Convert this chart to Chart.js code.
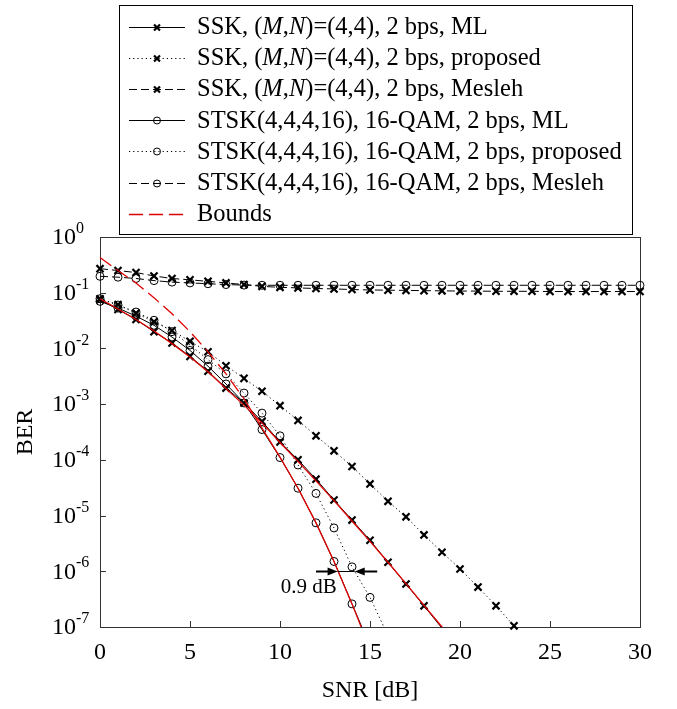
<!DOCTYPE html>
<html><head><meta charset="utf-8">
<script src="https://cdn.jsdelivr.net/npm/chart.js@4"></script>
<style>html,body{margin:0;padding:0;background:#fff}#wrap{width:677px;height:709px;position:relative}</style>
</head><body><div id="wrap"><canvas id="c" width="677" height="709"></canvas></div>
<script>
// ---------- data ----------
const snrDb = [0,1,2,3,4,5,6,7,8,9,10,11,12,13,14,15,16,17,18,19,20,21,22,23,24,25,26,27,28,29,30];
const xTickValues = [0,5,10,15,20,25,30];
const yTickPowers = [0,-1,-2,-3,-4,-5,-6,-7];

const sskMl = [0.075,0.050,0.033,0.020,0.0125,0.0072,0.0039,1.94e-3,1.05e-3,4.9e-4,2.1e-4,1.0e-4,4.5e-5,1.9e-5,8.3e-6,3.6e-6,1.45e-6,5.9e-7,2.4e-7,9.5e-8];
const sskProposed = [0.078,0.061,0.043,0.030,0.021,0.0134,0.0087,4.9e-3,2.9e-3,1.7e-3,9.4e-4,5.1e-4,2.7e-4,1.45e-4,7.6e-5,3.7e-5,1.8e-5,9.5e-6,4.5e-6,2.2e-6,1.1e-6,5.2e-7,2.4e-7,1.05e-7];
const sskMesleh = [0.27,0.25,0.23,0.20,0.18,0.17,0.16,0.15,0.14,0.13,0.125,0.122,0.119,0.117,0.114,0.112,0.111,0.110,0.109,0.108,0.107,0.107,0.106,0.106,0.106,0.105,0.105,0.105,0.105,0.105,0.105];
const stskMl = [0.070,0.053,0.038,0.026,0.016,0.0092,0.0048,2.3e-3,1.05e-3,3.5e-4,1.1e-4,3.1e-5,7.4e-6,1.5e-6,2.6e-7,4.5e-8];
const stskProposed = [0.078,0.060,0.045,0.032,0.020,0.0115,0.0063,3.5e-3,1.58e-3,6.9e-4,2.7e-4,8.1e-5,2.5e-5,6.0e-6,1.2e-6,3.4e-7,7e-8];
const stskMesleh = [0.197,0.19,0.18,0.165,0.155,0.15,0.145,0.14,0.137,0.136,0.136,0.136,0.136,0.136,0.136,0.136,0.136,0.136,0.136,0.136,0.136,0.136,0.136,0.136,0.136,0.136,0.136,0.136,0.136,0.136,0.136];
const sskBound = [0.078,0.051,0.033,0.0205,0.0122,0.0070,0.0038,1.9e-3,9.6e-4,4.6e-4,2.05e-4,9.4e-5,4.2e-5,1.85e-5,8.0e-6,3.45e-6,1.45e-6,6.0e-7,2.45e-7,1.0e-7,4e-8];
const stskBound = [0.43,0.25,0.15,0.081,0.042,0.020,8.7e-3,3.5e-3,1.25e-3,3.7e-4,1.12e-4,3.1e-5,7.4e-6,1.5e-6,2.6e-7,4e-8];

// "0.9 dB" gap annotation (data coordinates)
const gapLevel = 1e-6;
const gapTails = [12.0, 15.4];
const gapTips = [13.2, 14.15];
const gapLabel = '0.9 dB';
const gapLabelAt = [11.6, 5.2e-7];

const labels = [
  'SSK, (M,N)=(4,4), 2 bps, ML',
  'SSK, (M,N)=(4,4), 2 bps, proposed',
  'SSK, (M,N)=(4,4), 2 bps, Mesleh',
  'STSK(4,4,4,16), 16-QAM, 2 bps, ML',
  'STSK(4,4,4,16), 16-QAM, 2 bps, proposed',
  'STSK(4,4,4,16), 16-QAM, 2 bps, Mesleh',
  'Bounds'
];

// ---------- styling ----------
const FONT = '"Liberation Serif", "Times New Roman", serif';
const LEGEND_PX = 24.5;
const Y_MIN = 1e-7, Y_MAX = 1;
const DASH = [8,4], DOT = [1.2,3], RED_DASH = [14,6];
const clipBottom = {left:false, top:false, right:false, bottom:0};
const hideBelow = r => ctx => (ctx.raw != null && ctx.raw.y < Y_MIN) ? 0 : r;

function pts(arr){ return arr.map((v,i)=>({x:snrDb[i], y:v})); }

function series(label, data, opts){
  return Object.assign({
    label, data: pts(data), borderColor:'#000', backgroundColor:'rgba(0,0,0,0)',
    pointBorderColor:'#000', pointBackgroundColor:'rgba(0,0,0,0)',
    borderWidth:1, tension:0, clip:false, order:1
  }, opts);
}
const cross = {pointStyle:'crossRot', pointRadius:hideBelow(5), pointBorderWidth:2.2, legendRadius:4.2};
const circ = {pointStyle:'circle', pointRadius:hideBelow(4), pointBorderWidth:1, legendRadius:3.5};

const datasets = [
  series(labels[0], sskMl, Object.assign({borderDash:[], clip:clipBottom}, cross)),
  series(labels[1], sskProposed, Object.assign({borderDash:DOT}, cross)),
  series(labels[2], sskMesleh, Object.assign({borderDash:DASH}, cross)),
  series(labels[3], stskMl, Object.assign({borderDash:[], clip:clipBottom}, circ)),
  series(labels[4], stskProposed, Object.assign({borderDash:DOT, clip:clipBottom}, circ)),
  series(labels[5], stskMesleh, Object.assign({borderDash:DASH}, circ)),
  series(labels[6], sskBound, {borderColor:'#e00000', borderDash:RED_DASH, borderWidth:1.3, pointRadius:0, clip:clipBottom, order:0,
    segment:{borderDash:()=>[]}}),
  series(labels[6], stskBound, {borderColor:'#e00000', borderDash:RED_DASH, borderWidth:1.3, pointRadius:0, clip:clipBottom, order:0, legendHidden:true,
    segment:{borderDash:c => c.p0.parsed.x >= 8 ? [] : undefined}})
];

// ---------- plugins ----------
const framePlugin = {
  id:'frame',
  beforeDatasetsDraw(chart){
    const {ctx, chartArea:a, scales:{x,y}} = chart;
    ctx.save();
    ctx.strokeStyle = '#333'; ctx.lineWidth = 1; ctx.setLineDash([]);
    ctx.strokeRect(Math.round(a.left)+0.5, Math.round(a.top)+0.5, Math.round(a.right-a.left), Math.round(a.bottom-a.top));
    ctx.beginPath();
    for (const v of xTickValues){ const px = Math.round(x.getPixelForValue(v))+0.5; ctx.moveTo(px, a.bottom); ctx.lineTo(px, a.bottom-6); }
    for (const p of yTickPowers){ const py = Math.round(y.getPixelForValue(Math.pow(10,p)))+0.5; ctx.moveTo(a.left, py); ctx.lineTo(a.left+6, py); }
    ctx.stroke();
    ctx.restore();
  },
  afterDraw(chart){
    const {ctx, scales:{x,y}} = chart;
    ctx.save();
    ctx.fillStyle = '#000'; ctx.textAlign = 'left'; ctx.textBaseline = 'middle';
    for (const p of yTickPowers){
      const py = y.getPixelForValue(Math.pow(10,p));
      ctx.font = '24px ' + FONT;
      ctx.fillText('10', 52, py+1);
      const w = ctx.measureText('10').width;
      ctx.font = '16px ' + FONT;
      ctx.fillText(p === 0 ? '0' : '-' + (-p), 52 + w, py - 8);
    }
    // gap annotation
    const ay = Math.round(y.getPixelForValue(gapLevel)) + 0.5;
    const t0 = x.getPixelForValue(gapTails[0]), t1 = x.getPixelForValue(gapTails[1]);
    const h0 = x.getPixelForValue(gapTips[0]), h1 = x.getPixelForValue(gapTips[1]);
    ctx.strokeStyle = '#000'; ctx.lineWidth = 2; ctx.setLineDash([]);
    ctx.beginPath(); ctx.moveTo(t0, ay); ctx.lineTo(h0 - 8, ay); ctx.stroke();
    ctx.beginPath(); ctx.moveTo(t1, ay); ctx.lineTo(h1 + 8, ay); ctx.stroke();
    ctx.lineWidth = 1;
    ctx.beginPath(); ctx.moveTo(h0, ay); ctx.lineTo(h1, ay); ctx.stroke();
    ctx.beginPath();
    ctx.moveTo(h0, ay); ctx.lineTo(h0 - 10, ay - 4); ctx.lineTo(h0 - 10, ay + 4); ctx.closePath();
    ctx.moveTo(h1, ay); ctx.lineTo(h1 + 10, ay - 4); ctx.lineTo(h1 + 10, ay + 4); ctx.closePath();
    ctx.fill();
    ctx.font = '21px ' + FONT; ctx.textAlign = 'center'; ctx.textBaseline = 'middle';
    ctx.fillText(gapLabel, x.getPixelForValue(gapLabelAt[0]), y.getPixelForValue(gapLabelAt[1]));
    ctx.restore();
  }
};

function drawRich(ctx, text, x, y){
  const parts = text.split(/(\(M,N\))/);
  for (const part of parts){
    if (part === '(M,N)'){
      const segs = [['(',false],['M',true],[',',false],['N',true],[')',false]];
      for (const [s,it] of segs){
        ctx.font = (it?'italic ':'') + LEGEND_PX + 'px ' + FONT;
        ctx.fillText(s, x, y); x += ctx.measureText(s).width;
      }
    } else {
      ctx.font = LEGEND_PX + 'px ' + FONT;
      ctx.fillText(part, x, y); x += ctx.measureText(part).width;
    }
  }
}

const legendPlugin = {
  id:'boxLegend',
  afterDraw(chart){
    const {ctx} = chart;
    const box = {left:119.5, top:5.5, right:632.5, bottom:234.5};
    ctx.save();
    ctx.fillStyle = '#fff';
    ctx.fillRect(box.left, box.top, box.right-box.left, box.bottom-box.top);
    ctx.strokeStyle = '#000'; ctx.lineWidth = 1; ctx.setLineDash([]);
    ctx.strokeRect(box.left, box.top, box.right-box.left, box.bottom-box.top);
    let row = 0;
    chart.data.datasets.forEach(ds => {
      if (ds.legendHidden) return;
      const yRow = 26.6 + row*31.2;
      ctx.save();
      ctx.strokeStyle = ds.borderColor; ctx.lineWidth = ds.borderWidth;
      ctx.setLineDash(ds.borderDash || []);
      ctx.beginPath(); ctx.moveTo(129, Math.round(yRow)+0.5); ctx.lineTo(185, Math.round(yRow)+0.5); ctx.stroke();
      ctx.setLineDash([]);
      if (ds.legendRadius){
        ctx.strokeStyle = '#000'; ctx.fillStyle = 'rgba(0,0,0,0)';
        ctx.lineWidth = ds.pointBorderWidth;
        Chart.helpers.drawPoint(ctx, {pointStyle:ds.pointStyle, radius:ds.legendRadius, borderWidth:ds.pointBorderWidth, rotation:0}, 157, Math.round(yRow)+0.5);
      }
      ctx.restore();
      ctx.fillStyle = '#000'; ctx.textBaseline = 'middle'; ctx.textAlign = 'left';
      drawRich(ctx, ds.label, 197, yRow+1);
      row++;
    });
    ctx.restore();
  }
};

// ---------- chart ----------
new Chart(document.getElementById('c'), {
  type:'line',
  data:{datasets},
  options:{
    responsive:false, animation:false, devicePixelRatio:1,
    events:[],
    layout:{padding:{top:237, right:37, left:0, bottom:0}},
    plugins:{legend:{display:false}, tooltip:{enabled:false}},
    scales:{
      x:{
        type:'linear', min:0, max:30,
        grid:{display:false, drawTicks:false}, border:{display:false},
        afterBuildTicks: s => { s.ticks = xTickValues.map(v=>({value:v})); },
        afterFit: s => { s.height = 82; },
        ticks:{font:{family:FONT, size:24}, color:'#000', padding:11, maxRotation:0, autoSkip:false},
        title:{display:true, text:'SNR [dB]', font:{family:FONT, size:24}, color:'#000', padding:{top:0, bottom:4}}
      },
      y:{
        type:'logarithmic', min:Y_MIN, max:Y_MAX,
        grid:{display:false, drawTicks:false}, border:{display:false},
        afterBuildTicks: s => { s.ticks = yTickPowers.map(p=>({value:Math.pow(10,p)})); },
        afterFit: s => { s.width = 100; },
        ticks:{display:false},
        title:{display:true, text:'BER', font:{family:FONT, size:24}, color:'#000', padding:{top:11, bottom:0}}
      }
    }
  },
  plugins:[framePlugin, legendPlugin]
});
</script>
</body></html>
